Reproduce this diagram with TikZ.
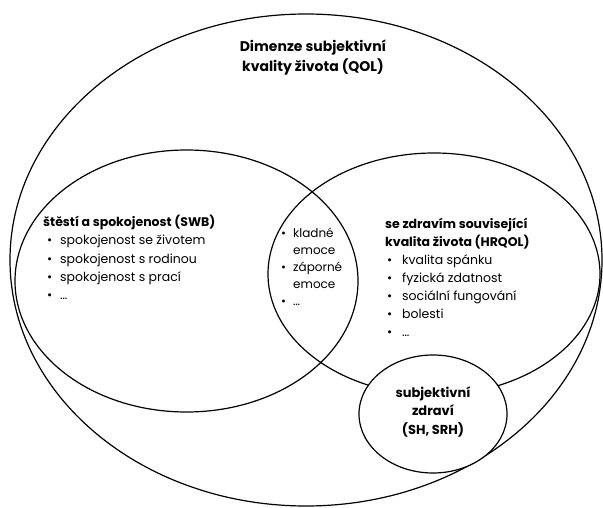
\documentclass[tikz,border=0pt]{standalone}
\usepackage{fontspec}
\setmainfont{Poppins}
\usetikzlibrary{shapes.geometric}
\newcommand{\bul}[1]{\makebox[#1][l]{•}}
\begin{document}
\begin{tikzpicture}[x=1pt,y=-1pt,
  ring/.style={ellipse, draw=black, line width=1.2pt, inner sep=0pt},
  txt/.style={inner sep=0pt, font=\fontsize{12.5}{18.5}\selectfont}]
\useasboundingbox (0,0) rectangle (603,508);
\fill[white] (0,0) rectangle (603,508);
\node[ring, minimum width=592pt, minimum height=492pt] (qol) at (306,260) {};
\node[ring, minimum width=343pt, minimum height=262pt] (swb) at (186.5,281) {};
\node[ring, minimum width=332pt, minimum height=242pt] (hrqol) at (434,274) {};
\node[ring, fill=white, minimum width=148pt, minimum height=118pt] (sh) at (433,414) {};

\node[txt, anchor=base, font=\fontsize{14}{20}\selectfont\bfseries] (qolt) at (313,52) {\begin{tabular}[t]{@{}c@{}}
Dimenze subjektivní\\kvality života (QOL)\end{tabular}};

\node[txt, anchor=base west] (swbt) at (43,226) {\begin{tabular}[t]{@{}l@{}l@{}}
\multicolumn{2}{@{}l@{}}{\bfseries štěstí a spokojenost (SWB)}\\
\hspace{4pt}\bul{13pt} & spokojenost se životem\\
\hspace{4pt}\bul{13pt} & spokojenost s rodinou\\
\hspace{4pt}\bul{13pt} & spokojenost s prací\\
\hspace{4pt}\bul{13pt} & …
\end{tabular}};

\node[txt, anchor=base west, font=\fontsize{12}{17.2}\selectfont] (emo) at (281,237) {\begin{tabular}[t]{@{}l@{}l@{}}
\bul{12pt} & kladné\\
 & emoce\\
\bul{12pt} & záporné\\
 & emoce\\
\bul{12pt} & …
\end{tabular}};

\node[txt, anchor=base west, font=\fontsize{12.5}{18}\selectfont] (hrt) at (385,229) {\begin{tabular}[t]{@{}l@{}l@{}}
\multicolumn{2}{@{}l@{}}{\bfseries se zdravím související}\\
\multicolumn{2}{@{}l@{}}{\bfseries kvalita života (HRQOL)}\\
\hspace{2pt}\bul{15pt} & kvalita spánku\\
\hspace{2pt}\bul{15pt} & fyzická zdatnost\\
\hspace{2pt}\bul{15pt} & sociální fungování\\
\hspace{2pt}\bul{15pt} & bolesti\\
\hspace{2pt}\bul{15pt} & …
\end{tabular}};

\node[txt, anchor=base, font=\fontsize{13}{18.5}\selectfont\bfseries] (sht) at (433,397) {\begin{tabular}[t]{@{}c@{}}
subjektivní\\zdraví\\(SH, SRH)\end{tabular}};
\end{tikzpicture}
\end{document}
